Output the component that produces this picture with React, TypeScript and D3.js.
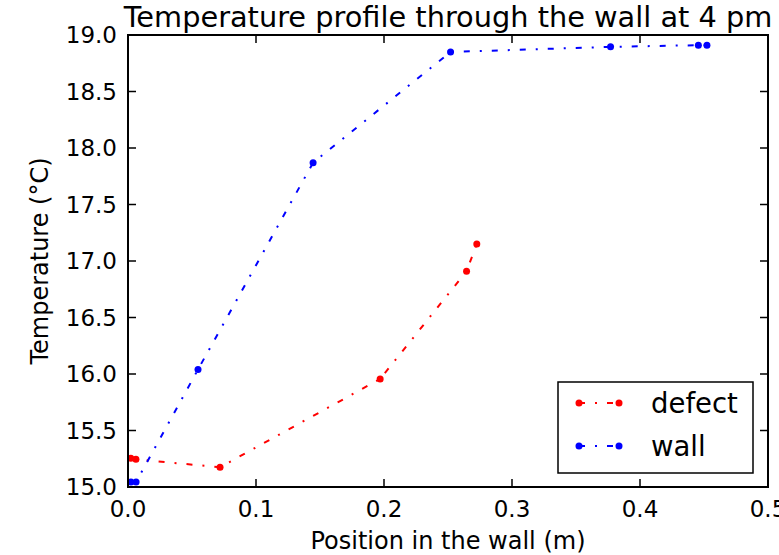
import React from "react";
import * as d3 from "d3";

const wallX = [0.0023, 0.0063, 0.0547, 0.1446, 0.252, 0.377, 0.4456, 0.4523];
const wallY = [15.044, 15.044, 16.04, 17.87, 18.85, 18.895, 18.91, 18.91];
const defectX = [0.0022, 0.0062, 0.0719, 0.197, 0.2645, 0.2725];
const defectY = [15.255, 15.245, 15.175, 15.956, 16.91, 17.15];
const xTicks = [0, 0.1, 0.2, 0.3, 0.4, 0.5];
const yTicks = [15, 15.5, 16, 16.5, 17, 17.5, 18, 18.5, 19];
const seriesNames = ["defect", "wall"];
const seriesColors = ["#ff0000", "#0000ff"];

const W = 779, H = 555;
const M = { left: 128, right: 768, top: 35, bottom: 487 };
const FONT = "'DejaVu Sans', sans-serif";
const DASH = "6,10,2,10";

export default function App() {
  const x = d3.scaleLinear().domain([0, 0.5]).range([M.left, M.right]);
  const y = d3.scaleLinear().domain([15, 19]).range([M.bottom, M.top]);
  const line = d3.line<[number, number]>().x(d => x(d[0])).y(d => y(d[1]));
  const series = [
    { name: seriesNames[0], color: seriesColors[0], pts: defectX.map((v, i) => [v, defectY[i]] as [number, number]) },
    { name: seriesNames[1], color: seriesColors[1], pts: wallX.map((v, i) => [v, wallY[i]] as [number, number]) },
  ];
  const tl = 8;
  const lg = { x0: 558, y0: 382, x1: 753, y1: 473 };
  return (
    <svg width={W} height={H} style={{ position: "absolute", left: 0, top: 0, background: "#fff" }} fontFamily={FONT}>
      <rect x={0} y={0} width={W} height={H} fill="#fff" />
      {series.map(s => (
        <g key={s.name}>
          <path d={line(s.pts) || ""} fill="none" stroke={s.color} strokeWidth={2} strokeDasharray={DASH} />
          {s.pts.map((p, i) => (
            <circle key={i} cx={x(p[0])} cy={y(p[1])} r={3.5} fill={s.color} />
          ))}
        </g>
      ))}
      {xTicks.map(t => (
        <g key={"x" + t}>
          <line x1={x(t)} x2={x(t)} y1={M.bottom} y2={M.bottom - tl} stroke="#000" strokeWidth={1.5} />
          <line x1={x(t)} x2={x(t)} y1={M.top} y2={M.top + tl} stroke="#000" strokeWidth={1.5} />
          <text x={x(t)} y={517} textAnchor="middle" fontSize={23} fill="#000">{t.toFixed(1)}</text>
        </g>
      ))}
      {yTicks.map(t => (
        <g key={"y" + t}>
          <line x1={M.left} x2={M.left + tl} y1={y(t)} y2={y(t)} stroke="#000" strokeWidth={1.5} />
          <line x1={M.right} x2={M.right - tl} y1={y(t)} y2={y(t)} stroke="#000" strokeWidth={1.5} />
          <text x={117} y={y(t) + 8} textAnchor="end" fontSize={23} fill="#000">{t.toFixed(1)}</text>
        </g>
      ))}
      <rect x={M.left} y={M.top} width={M.right - M.left} height={M.bottom - M.top} fill="none" stroke="#000" strokeWidth={2} />
      <rect x={lg.x0} y={lg.y0} width={lg.x1 - lg.x0} height={lg.y1 - lg.y0} fill="#fff" stroke="#000" strokeWidth={1.5} />
      {series.map((s, i) => {
        const ly = 403 + i * 43;
        return (
          <g key={"lg" + s.name}>
            <line x1={579} x2={619} y1={ly} y2={ly} stroke={s.color} strokeWidth={2} strokeDasharray={DASH} />
            <circle cx={579} cy={ly} r={3.5} fill={s.color} />
            <circle cx={619} cy={ly} r={3.5} fill={s.color} />
            <text x={651} y={ly + 10} fontSize={27.5} fill="#000">{s.name}</text>
          </g>
        );
      })}
      <text x={(M.left + M.right) / 2} y={27} textAnchor="middle" fontSize={28.8} fill="#000">Temperature profile through the wall at 4 pm</text>
      <text x={(M.left + M.right) / 2} y={549} textAnchor="middle" fontSize={24} fill="#000">Position in the wall (m)</text>
      <text transform={`translate(48,${(M.top + M.bottom) / 2}) rotate(-90)`} textAnchor="middle" fontSize={24} fill="#000">Temperature (°C)</text>
    </svg>
  );
}
